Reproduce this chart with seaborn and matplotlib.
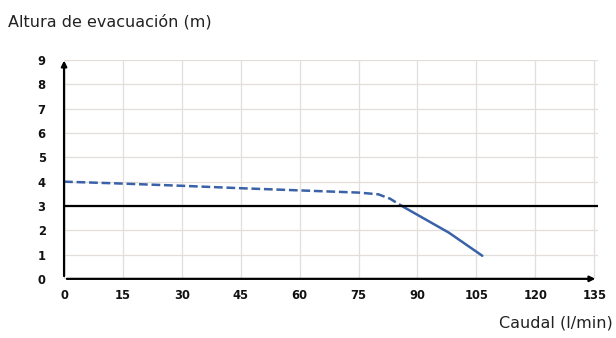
import matplotlib
matplotlib.use('Agg')
import matplotlib.pyplot as plt
import seaborn as sns
import pandas as pd

# datos
caudal_dash = [0, 15, 30, 45, 60, 75, 80, 83, 86]
altura_dash = [4.0, 3.92, 3.83, 3.73, 3.64, 3.55, 3.48, 3.3, 3.0]
caudal_sol = [86, 92, 98, 106.5]
altura_sol = [3.0, 2.45, 1.9, 0.95]
nivel = 3
xticks = [0, 15, 30, 45, 60, 75, 90, 105, 120, 135]
yticks = list(range(10))

sns.set_style('white')
plt.rcParams['font.family'] = ['DejaVu Sans']

fig = plt.figure(figsize=(6.16, 3.38), dpi=100)
ax = fig.add_axes([0.104, 0.175, 0.867, 0.647])

blue = '#3a62a8'
df1 = pd.DataFrame({'x': caudal_dash, 'y': altura_dash})
df2 = pd.DataFrame({'x': caudal_sol, 'y': altura_sol})
sns.lineplot(data=df1, x='x', y='y', ax=ax, color=blue, lw=1.8, linestyle=(0, (3.5, 1.5)))
sns.lineplot(data=df2, x='x', y='y', ax=ax, color=blue, lw=1.8)
ax.axhline(nivel, color='black', lw=1.6)

ax.set_xlim(0, 136)
ax.set_ylim(0, 9)
ax.set_xticks(xticks)
ax.set_yticks(yticks)
ax.grid(True, color='#e4deda', lw=0.9)
ax.set_axisbelow(True)
for s in ax.spines.values():
    s.set_visible(False)
ax.tick_params(length=0, labelsize=8.3)
ax.tick_params(axis='x', pad=7)
ax.tick_params(axis='y', pad=19)
for lab in ax.get_xticklabels() + ax.get_yticklabels():
    lab.set_fontweight('bold')
    lab.set_color('#111111')
for lab in ax.get_yticklabels():
    lab.set_horizontalalignment('left')
ax.set_xlabel('')
ax.set_ylabel('')

# ejes con flecha
ax.annotate('', xy=(0, 9.1), xytext=(0, 0), xycoords='data',
            arrowprops=dict(arrowstyle='-|>', color='black', lw=1.6, mutation_scale=8),
            annotation_clip=False)
ax.annotate('', xy=(136, 0), xytext=(0, 0), xycoords='data',
            arrowprops=dict(arrowstyle='-|>', color='black', lw=1.6, mutation_scale=8),
            annotation_clip=False)

fig.text(8 / 616, 1 - 22 / 338, 'Altura de evacuación (m)', fontsize=11.5,
         fontweight='medium', va='center', ha='left', color='#222222')
fig.text(613 / 616, 1 - 323 / 338, 'Caudal (l/min)', fontsize=11.5,
         fontweight='medium', va='center', ha='right', color='#222222')

fig.savefig('out.png', dpi=100, facecolor='white')
